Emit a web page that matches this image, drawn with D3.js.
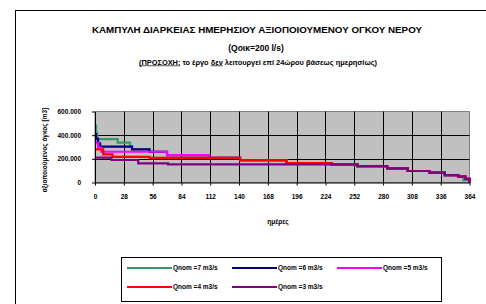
<!DOCTYPE html>
<html>
<head>
<meta charset="utf-8">
<script src="https://cdn.jsdelivr.net/npm/d3@7"></script>
<style>
  body { margin: 0; background: #fff; }
  svg { display: block; font-family: "Liberation Sans", Arial, sans-serif; }
</style>
</head>
<body>
<script>
// --- data ---
const dayTicks = [0, 28, 56, 84, 112, 140, 168, 196, 224, 252, 280, 308, 336, 364];
const volumeTicks = [0, 200000, 400000, 600000];
const seriesNames = ["Qnom =7 m3/s", "Qnom =6 m3/s", "Qnom =5 m3/s", "Qnom =4 m3/s", "Qnom =3 m3/s"];
const seriesColors = ["#339966", "#000080", "#ff00ff", "#ff0000", "#800080"];

// step breakpoints [day, volume m3], each value held until the next day listed
const q7 = [[0, 480000], [1, 420000], [2, 366000], [22, 337000], [34, 303000], [36, 280000], [53, 260000],
    [70, 231000], [111, 208000], [141, 189000], [186, 165000], [230, 154000], [255, 139000], [284, 120000],
    [304, 97000], [325, 83000], [340, 63000], [353, 49000], [358, 20000], [364, 0]];
const q6 = [[0, 410000], [1, 370000], [3, 330000], [5, 303000], [36, 280000], [53, 260000],
    [70, 231000], [111, 208000], [141, 189000], [186, 165000], [230, 154000], [255, 139000], [284, 120000],
    [304, 97000], [325, 83000], [340, 63000], [353, 49000], [360, 30000], [364, 0]];
const q5 = [[0, 345000], [1, 332000], [3, 294000], [6, 260000],
    [70, 231000], [111, 208000], [141, 189000], [186, 165000], [230, 154000], [255, 139000], [284, 120000],
    [304, 97000], [325, 83000], [340, 63000], [353, 49000], [360, 30000], [364, 0]];
const q4 = [[0, 280000], [8, 237000], [17, 217000], [53, 208000], [141, 189000], [186, 165000], [230, 154000],
    [255, 139000], [284, 120000], [304, 97000], [325, 83000], [340, 63000], [353, 49000], [360, 30000], [364, 0]];
const q3 = [[0, 210000], [16, 190000], [42, 162000], [71, 154000],
    [255, 139000], [284, 120000], [304, 97000], [325, 83000], [340, 63000], [353, 49000], [360, 30000], [364, 0]];
const allSeries = [q7, q6, q5, q4, q3];

const W = 486, H = 304;
const plot = { left: 95, right: 469.5, top: 111.5, bottom: 182.5 };

const svg = d3.select("body").append("svg").attr("width", W).attr("height", H);
svg.append("rect").attr("width", W).attr("height", H).attr("fill", "#fff");

// outer chart frame (runs off the right / bottom edge)
svg.append("rect")
    .attr("x", 15.5).attr("y", 10.5).attr("width", 490).attr("height", 310)
    .attr("fill", "none").attr("stroke", "#000").attr("stroke-width", 1);

// titles
svg.append("text").attr("x", 257).attr("y", 33)
    .attr("text-anchor", "middle").attr("font-size", 8.5).attr("font-weight", "bold")
    .attr("textLength", 330).attr("lengthAdjust", "spacingAndGlyphs")
    .text("ΚΑΜΠΥΛΗ ΔΙΑΡΚΕΙΑΣ ΗΜΕΡΗΣΙΟΥ ΑΞΙΟΠΟΙΟΥΜΕΝΟΥ ΟΓΚΟΥ ΝΕΡΟΥ");
svg.append("text").attr("x", 256).attr("y", 51)
    .attr("text-anchor", "middle").attr("font-size", 8.5).attr("font-weight", "bold")
    .text("(Qοικ=200 l/s)");
const note = svg.append("text").attr("x", 258).attr("y", 64.5)
    .attr("text-anchor", "middle").attr("font-size", 6.6).attr("font-weight", "bold")
    .attr("textLength", 238).attr("lengthAdjust", "spacingAndGlyphs");
note.append("tspan").attr("text-decoration", "underline").text("(ΠΡΟΣΟΧΗ:");
note.append("tspan").text(" το έργο ");
note.append("tspan").attr("text-decoration", "underline").text("δεν");
note.append("tspan").text(" λειτουργεί επί 24ώρου βάσεως ημερησίως)");

// scales
const x = d3.scaleLinear().domain([0, 364]).range([plot.left, plot.right]);
const y = d3.scaleLinear().domain([0, 600000]).range([plot.bottom, plot.top]);

// plot area + grid
svg.append("rect")
    .attr("x", plot.left).attr("y", plot.top)
    .attr("width", plot.right - plot.left).attr("height", plot.bottom - plot.top)
    .attr("fill", "#c0c0c0").attr("stroke", "#808080").attr("stroke-width", 1);

svg.append("g").selectAll("line")
    .data(volumeTicks.filter(v => v > 0 && v < 600000))
    .join("line")
    .attr("x1", plot.left).attr("x2", plot.right)
    .attr("y1", d => Math.round(y(d)) + 0.5).attr("y2", d => Math.round(y(d)) + 0.5)
    .attr("stroke", "#000").attr("stroke-width", 1);

svg.append("g").selectAll("line")
    .data(dayTicks.filter(d => d > 0 && d < 364))
    .join("line")
    .attr("x1", d => Math.round(x(d)) + 0.5).attr("x2", d => Math.round(x(d)) + 0.5)
    .attr("y1", plot.top).attr("y2", plot.bottom)
    .attr("stroke", "#000").attr("stroke-width", 1);

// series
const line = d3.line()
    .x(d => x(d[0]))
    .y(d => y(d[1]))
    .curve(d3.curveStepAfter);

svg.append("g").selectAll("path")
    .data(allSeries)
    .join("path")
    .attr("d", line)
    .attr("fill", "none")
    .attr("stroke", (d, i) => seriesColors[i])
    .attr("stroke-width", 2.2)
    .attr("stroke-linejoin", "miter");

// axes
const fmt = v => d3.format(",")(v).replace(/,/g, ".");

const yAxis = svg.append("g")
    .attr("transform", `translate(${plot.left},0)`)
    .call(d3.axisLeft(y).tickValues(volumeTicks).tickFormat(fmt).tickSize(3).tickSizeOuter(0).tickPadding(11));

const xAxis = svg.append("g")
    .attr("transform", `translate(0,${plot.bottom})`)
    .call(d3.axisBottom(x).tickValues(dayTicks).tickSize(3).tickSizeOuter(0).tickPadding(9));

[yAxis, xAxis].forEach(ax => {
    ax.select(".domain").attr("stroke", "#000");
    ax.selectAll(".tick line").attr("stroke", "#000");
    ax.selectAll("text")
        .attr("font-family", "'Liberation Sans', Arial, sans-serif")
        .attr("font-size", 6.5).attr("font-weight", "bold").attr("fill", "#000");
});

// axis titles
svg.append("text")
    .attr("transform", "translate(45,150) rotate(-90)")
    .attr("text-anchor", "middle").attr("dominant-baseline", "middle")
    .attr("font-size", 6.5).attr("font-weight", "bold")
    .text("αξιοποιούμενος όγκος [m3]");

svg.append("text")
    .attr("x", 278).attr("y", 224)
    .attr("text-anchor", "middle")
    .attr("font-size", 6.5).attr("font-weight", "bold")
    .text("ημέρες");

// legend
const legend = svg.append("g");
legend.append("rect")
    .attr("x", 121.5).attr("y", 257.5).attr("width", 320).attr("height", 44)
    .attr("fill", "#fff").attr("stroke", "#000").attr("stroke-width", 1);

const legendItems = legend.selectAll("g.item")
    .data(seriesNames)
    .join("g")
    .attr("class", "item")
    .attr("transform", (d, i) => `translate(${127 + (i % 3) * 105},${i < 3 ? 268 : 287})`);

legendItems.append("line")
    .attr("x1", 0).attr("x2", 45).attr("y1", 0).attr("y2", 0)
    .attr("stroke", (d, i) => seriesColors[i]).attr("stroke-width", 2);

legendItems.append("text")
    .attr("x", 46).attr("y", 0).attr("dy", "0.35em")
    .attr("font-size", 6.5).attr("font-weight", "bold")
    .text(d => d);
</script>
</body>
</html>
